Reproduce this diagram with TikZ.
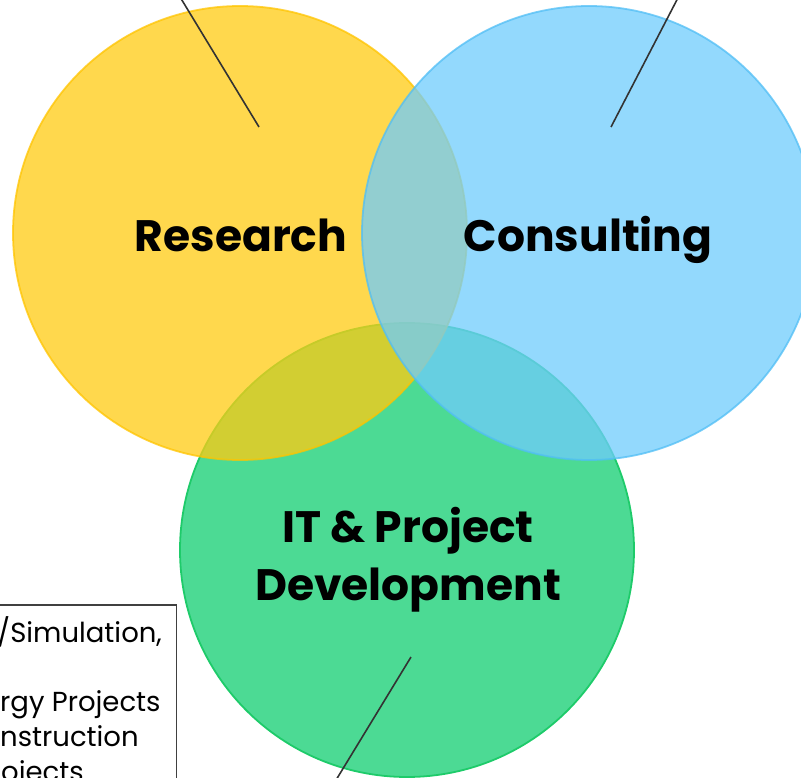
\documentclass[tikz,border=0pt]{standalone}
\usepackage{fontspec}
\setmainfont{Poppins}
\begin{document}
\begin{tikzpicture}[x=1pt,y=-1pt]
\definecolor{gfill}{RGB}{76,218,148}
\definecolor{gline}{RGB}{30,203,106}
\definecolor{yfill}{RGB}{255,203,18}
\definecolor{yline}{RGB}{255,196,0}
\definecolor{bfill}{RGB}{111,204,252}
\definecolor{bline}{RGB}{80,190,245}
\definecolor{leadcol}{RGB}{51,51,51}
\definecolor{boxcol}{RGB}{64,64,64}
\tikzset{
  bubble/.style={circle, inner sep=0pt, minimum size=454pt, line width=1.8pt},
  leader/.style={draw=leadcol, line width=1.6pt},
  biglabel/.style={font=\bfseries\fontsize{44}{54}\selectfont, text=black, align=center, inner sep=0pt},
  boxtext/.style={font=\fontsize{27.5}{33}\selectfont, text=black, anchor=base west, inner sep=0pt},
}
\useasboundingbox (0,0) rectangle (801,778);
\begin{scope}
\clip (0,0) rectangle (801,778);
% circles
\node[bubble, fill=gfill, draw=gline] (it) at (407,550) {};
\node[bubble, fill=yfill, draw=yline, fill opacity=0.75, draw opacity=0.75] (research) at (240,233) {};
\node[bubble, fill=bfill, draw=bline, fill opacity=0.75, draw opacity=0.75] (consulting) at (589,233) {};
% leader lines
\coordinate (rtip) at (259,127);
\coordinate (rend) at (177,-8);
\coordinate (ctip) at (611,127);
\coordinate (cend) at (681,-8);
\coordinate (itip) at (411,657);
\coordinate (iend) at (333,785);
\draw[leader] (rtip) -- (rend);
\draw[leader] (ctip) -- (cend);
\draw[leader] (itip) -- (iend);
% labels
\node[biglabel, anchor=base] (rlabel) at (241,252) {Research};
\node[biglabel, anchor=base] (clabel) at (588,252) {Consulting};
\node[biglabel, anchor=base] (ilabel1) at (408,542) {IT \& Project};
\node[biglabel, anchor=base] (ilabel2) at (408,600) {Development};
% text box
\node[draw=boxcol, line width=1.5pt, fill=white, anchor=north east, minimum width=200pt, minimum height=220pt, inner sep=0pt] (box) at (177,604) {};
\node[boxtext] (t1) at (-3,642) {/Simulation,};
\node[boxtext] (t2) at (0,711) {rgy Projects};
\node[boxtext] (t3) at (0,746) {nstruction};
\node[boxtext] (t4) at (1,781) {ojects};
\end{scope}
\end{tikzpicture}
\end{document}
